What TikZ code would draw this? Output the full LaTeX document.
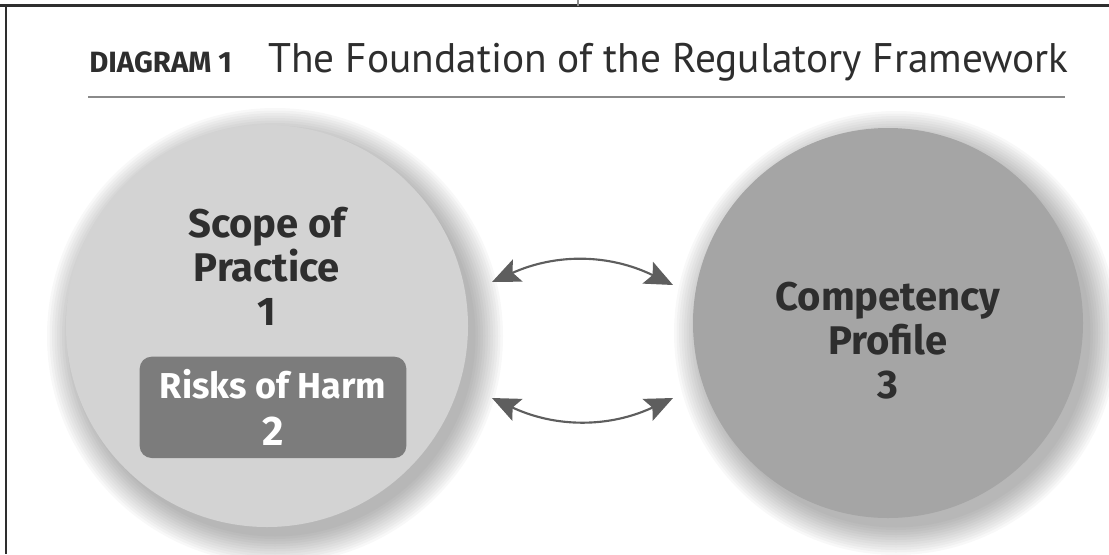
\documentclass[tikz,border=0pt]{standalone}
\usepackage{fontspec}
\setmainfont{Fira Sans}
\newfontfamily\headfont{PT Sans}
\usetikzlibrary{arrows.meta,positioning}
\definecolor{scopegrey}{HTML}{D3D3D3}
\definecolor{riskgrey}{HTML}{7C7C7C}
\definecolor{compgrey}{HTML}{A5A5A5}
\definecolor{inkgrey}{HTML}{2E2E2E}
\definecolor{arrowgrey}{HTML}{5E5E5E}
\definecolor{rulegrey}{HTML}{8A8A8A}

\begin{document}
\begin{tikzpicture}[x=0.75pt, y=0.75pt,
          area/.style={circle, inner sep=0pt, minimum size=#1},
          areatext/.style={align=center, text=inkgrey, font=\bfseries\fontsize{30}{33}\selectfont},
          riskbox/.style={rounded corners=9pt, fill=riskgrey, minimum width=200pt, minimum height=76pt,
                          text=white, align=center, font=\bfseries\fontsize{27}{35}\selectfont},
          link/.style={draw=arrowgrey, line width=1.6pt,
                       {Stealth[length=21pt, width=18pt, inset=4pt]}-{Stealth[length=21pt, width=18pt, inset=4pt]}},
          ]
          \useasboundingbox (0,0) rectangle (1109,-554);

          % page frame
          \draw[inkgrey, line width=2.2pt] (0,-5.5) -- (1109,-5.5);
          \draw[inkgrey, line width=2.2pt] (6,-5.5) -- (6,-554);
          \draw[rulegrey, line width=0.8pt] (578,0) -- (578,-5.5);

          % heading
          \node[anchor=base west, inner sep=0pt, text=inkgrey, font=\bfseries\fontsize{22}{24}\selectfont] (tag) at (89,-72) {DIAGRAM 1};
          \node[anchor=base west, inner sep=0pt, text=inkgrey, font=\headfont\fontsize{31}{36}\selectfont] (heading) at (268,-72) {The Foundation of the Regulatory Framework};
          \coordinate (rulel) at (88,-97);
          \coordinate (ruler) at (1065,-97);
          \draw[rulegrey, line width=1.5pt] (rulel) -- (ruler);

          % soft shadows under the two circles
          \foreach \k in {1,...,12} {
            \fill[black, opacity=0.028] (267,-326) ++(8,-10) circle[radius=198+2.5*\k];
            \fill[black, opacity=0.028] (888,-323) ++(8,-10) circle[radius=192+2.5*\k];
          }

          \node[area=301.5pt, fill=scopegrey] (scope) at (267,-326) {};
          \node[area=292.5pt, fill=compgrey] (comp) at (888,-323) {};

          \node[areatext, above of=scope, node distance=45pt] (scopetext) {Scope of\\Practice\\1};
          \node[riskbox, below of=scope, node distance=61pt, xshift=4.5pt] (risk) {Risks of Harm\\{\fontsize{31}{35}\selectfont 2}};
          \node[areatext, below of=comp, node distance=13pt] (comptext) {Competency\\Profile\\3};

          \coordinate (upl) at (492,-282);
          \coordinate (upr) at (673,-285);
          \coordinate (lowl) at (492,-398);
          \coordinate (lowr) at (673,-398);

          \draw[link] (upl) to[bend left=25] (upr);
          \draw[link] (lowl) to[bend right=25] (lowr);

        \end{tikzpicture}
\end{document}
